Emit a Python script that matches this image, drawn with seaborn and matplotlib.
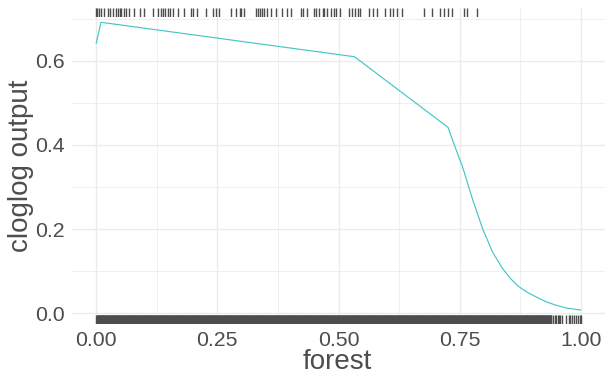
import numpy as np
import pandas as pd
import matplotlib
matplotlib.use("Agg")
import matplotlib.pyplot as plt
from matplotlib.ticker import FixedLocator
import seaborn as sns

# Response curve of cloglog output against forest cover
forest = [0.0, 0.0097, 0.533, 0.726, 0.739, 0.756, 0.776, 0.797, 0.818,
          0.838, 0.855, 0.872, 0.890, 0.907, 0.928, 0.948, 0.970, 1.0]
cloglog = [0.642, 0.692, 0.610, 0.442, 0.400, 0.348, 0.273, 0.202, 0.145,
           0.107, 0.082, 0.063, 0.049, 0.039, 0.027, 0.019, 0.012, 0.0071]

# Forest cover at presence locations (top rug)
presence_forest = [
    0.000, 0.001, 0.006, 0.010, 0.016, 0.025, 0.029, 0.034, 0.041, 0.045,
    0.049, 0.052, 0.058, 0.062, 0.068, 0.078, 0.090, 0.098, 0.118, 0.127,
    0.134, 0.137, 0.142, 0.148, 0.152, 0.158, 0.169, 0.181, 0.195, 0.200,
    0.209, 0.227, 0.240, 0.247, 0.253, 0.278, 0.288, 0.296, 0.299, 0.305,
    0.329, 0.333, 0.337, 0.342, 0.346, 0.352, 0.360, 0.371, 0.383, 0.394,
    0.401, 0.422, 0.426, 0.434, 0.449, 0.453, 0.459, 0.467, 0.471, 0.476,
    0.484, 0.490, 0.494, 0.504, 0.521, 0.528, 0.535, 0.541, 0.545, 0.562,
    0.572, 0.580, 0.595, 0.607, 0.613, 0.621, 0.632, 0.676, 0.692, 0.710,
    0.718, 0.726, 0.734, 0.759, 0.765, 0.785,
]

# Forest cover at background locations (bottom rug): dense over most of the
# range, sparse near full cover
background_dense = np.round(np.arange(0.0, 0.940, 0.001), 3).tolist()
background_tail = [0.943, 0.946, 0.949, 0.952, 0.955, 0.958, 0.961, 0.970,
                   0.975, 0.978, 0.981, 0.985, 0.990, 0.995, 0.998, 1.0]
background_forest = background_dense + background_tail

x_ticks = [0.00, 0.25, 0.50, 0.75, 1.00]
x_tick_labels = ["0.00", "0.25", "0.50", "0.75", "1.00"]
y_ticks = [0.0, 0.2, 0.4, 0.6]
y_tick_labels = ["0.0", "0.2", "0.4", "0.6"]

sns.set_theme(style="whitegrid")
plt.rcParams["font.family"] = ["Liberation Sans", "DejaVu Sans"]

TEXT = "#4D4D4D"
GRID = "#EBEBEB"
RUG = "#4D4D4D"
LINE = "#46C5C7"

W, H = 605, 381
fig = plt.figure(figsize=(W / 100, H / 100), dpi=100)
fig.patch.set_facecolor("white")
left_px, right_px, top_px, bottom_px = 72, 605, 8, 324.4
ax = fig.add_axes([left_px / W, (H - bottom_px) / H,
                   (right_px - left_px) / W, (bottom_px - top_px) / H])
ax.set_facecolor("white")

curve = pd.DataFrame({"forest": forest, "cloglog": cloglog})
sns.lineplot(data=curve, x="forest", y="cloglog", ax=ax, color=LINE,
             linewidth=0.85, estimator=None, sort=False)

sns.rugplot(x=background_forest, ax=ax, height=0.03, color=RUG,
            linewidth=1.0, alpha=1.0, expand_margins=False)

x_lim = (-0.05, 1.05)
ax.set_xlim(*x_lim)
ax.set_ylim(-0.027, 0.726)

# Top rug lives in a thin strip along the upper edge of the panel
ax_top = ax.inset_axes([0, 0.97, 1, 0.03])
sns.rugplot(x=presence_forest, ax=ax_top, height=1.0, color=RUG,
            linewidth=1.0, alpha=1.0, expand_margins=False)
ax_top.set_xlim(*x_lim)
ax_top.set_ylim(0, 1)
ax_top.set_xticks([])
ax_top.set_yticks([])
ax_top.set_xlabel("")
ax_top.set_ylabel("")
ax_top.set_axis_off()
ax_top.patch.set_alpha(0)

ax.xaxis.set_major_locator(FixedLocator(x_ticks))
ax.set_xticklabels(x_tick_labels)
ax.yaxis.set_major_locator(FixedLocator(y_ticks))
ax.set_yticklabels(y_tick_labels)
ax.xaxis.set_minor_locator(FixedLocator([0.125, 0.375, 0.625, 0.875]))
ax.yaxis.set_minor_locator(FixedLocator([0.1, 0.3, 0.5, 0.7]))

ax.grid(which="major", color=GRID, linewidth=1.0)
ax.grid(which="minor", color=GRID, linewidth=0.55)
ax.set_axisbelow(True)
for s in ax.spines.values():
    s.set_visible(False)

ax.tick_params(axis="both", which="both", length=0, labelsize=15.3,
               labelcolor=TEXT)
ax.tick_params(axis="x", pad=5)
ax.tick_params(axis="y", pad=5)

ax.set_xlabel("forest", fontsize=20, color=TEXT)
ax.xaxis.set_label_coords(0.498, -0.078)
ax.set_ylabel("cloglog output", fontsize=20, color=TEXT)
ax.yaxis.set_label_coords(-0.071, 0.5)

fig.savefig("out.png", dpi=100, facecolor="white")
